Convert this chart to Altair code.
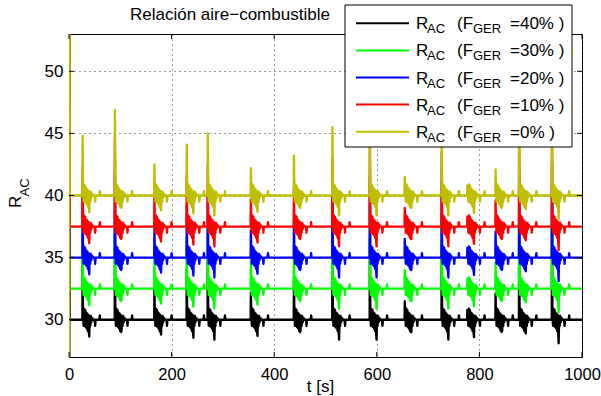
import altair as alt
import pandas as pd

# ---------------- data ----------------
series_names = ["F40", "F30", "F20", "F10", "F0"]
series_pct = ["=40% )", "=30% )", "=20% )", "=10% )", "=0% )"]
series_colors = ["#000000", "#00ff00", "#0000ff", "#ff0000", "#bfbf00"]
baselines = [30.0, 32.5, 35.0, 37.5, 40.0]

# start-up transient at t = 0 (deviation from each baseline)
init_t = [0.0, 0.5, 1.5]
init_dev = [-20.0, 30.0, 0.0]

# disturbance events: time [s], spike height and deepest dip (relative to baseline)
event_t = [26, 89, 166, 229, 270, 354, 438, 513, 586, 654, 726, 776, 831, 877, 941]
event_peak = [4.8, 6.9, 2.5, 4.1, 5.0, 2.2, 3.2, 5.5, 6.5, 1.5, 6.0, 0.8, 2.1, 7.0, 7.5]
event_trough = [-1.35, -0.9, -1.2, -1.45, -1.6, -1.3, -0.8, -1.6, -1.6, -1.0, -1.6, -1.4, -0.9, -1.1, -1.9]

# response seen after each event (seconds after the event, deviation; P = spike, T = dip)
shape_dt = [0, 0.5, 1.5, 2.5, 3.5, 4.5, 5.5, 6.5, 7.5, 8.5, 9.5, 10.5, 11.5, 12.5,
            13.5, 14.5, 15.5, 16.5, 17.5, 19, 21, 24, 25, 26, 33, 34, 35]
shape_off = [0, "P", 0.3, -0.5, 0.9, -0.4, 0.8, -0.6, 0.6, -0.7, 0.5, -0.9, 0.4, -1.0,
             "T", 0.3, -0.5, 0.3, -0.2, 0.15, 0, 0, -0.5, 0, 0, 0.35, 0]

t_end = 1000.0

x_ticks = [0, 200, 400, 600, 800, 1000]
y_ticks = [30, 35, 40, 45, 50]

# ---------------- build table ----------------
rows = []
for s, name in enumerate(series_names):
    pts = list(zip(init_t, init_dev))
    for t0, pk, tr in zip(event_t, event_peak, event_trough):
        for dt, off in zip(shape_dt, shape_off):
            v = pk if off == "P" else (tr if off == "T" else off)
            pts.append((t0 + dt, v))
    pts.append((t_end, 0.0))
    for i, (t, d) in enumerate(pts):
        rows.append({"series": name, "t": t, "r": baselines[s] + d, "i": i})
df = pd.DataFrame(rows)

FONT = "Liberation Sans"
W, H = 513, 323

x_axis = alt.Axis(values=x_ticks, title=None, grid=True, gridDash=[1, 4], gridColor="#333",
                  gridWidth=1, ticks=False, tickSize=0, domain=False, labelFont=FONT,
                  labelFontSize=16.5, labelColor="black", labelPadding=9, labelFlush=False,
                  format="d")
y_axis = alt.Axis(values=y_ticks, title=None, grid=True, gridDash=[1, 4], gridColor="#333",
                  gridWidth=1, ticks=False, tickSize=0, domain=False, labelFont=FONT,
                  labelFontSize=17, labelColor="black", labelPadding=6, format="d")
x_scale = alt.Scale(domain=[0, 1000], nice=False, zero=False)
y_scale = alt.Scale(domain=[27, 53], nice=False, zero=False)


def X(f):
    return alt.X(f"{f}:Q", scale=x_scale, axis=x_axis)


def Y(f):
    return alt.Y(f"{f}:Q", scale=y_scale, axis=y_axis)


layers = []
for name, col in zip(series_names, series_colors):
    layers.append(
        alt.Chart(df).transform_filter(alt.datum.series == name)
        .mark_line(color=col, strokeWidth=2.3, clip=True, strokeJoin="round")
        .encode(x=X("t"), y=Y("r"), order="i:Q")
    )

ytk = pd.DataFrame({"v": y_ticks})
xtk = pd.DataFrame({"v": x_ticks})
layers.append(alt.Chart(ytk).mark_rule(color="black", strokeWidth=1)
              .encode(y=Y("v"), x=alt.value(0), x2=alt.value(5)))
layers.append(alt.Chart(ytk).mark_rule(color="black", strokeWidth=1)
              .encode(y=Y("v"), x=alt.value(W - 5), x2=alt.value(W)))
layers.append(alt.Chart(xtk).mark_rule(color="black", strokeWidth=1)
              .encode(x=X("v"), y=alt.value(H - 5), y2=alt.value(H)))
layers.append(alt.Chart(xtk).mark_rule(color="black", strokeWidth=1)
              .encode(x=X("v"), y=alt.value(0), y2=alt.value(5)))

one = pd.DataFrame({"k": [0]})


def txt(s, x, y, size=17, angle=0, align="left"):
    kw = dict(text=s, font=FONT, fontSize=size, align=align, baseline="alphabetic", color="black")
    if angle:
        kw["angle"] = angle
    return alt.Chart(one).mark_text(**kw).encode(x=alt.value(x), y=alt.value(y))


# title (partly hidden by legend box)
layers.append(txt("Relación aire−combustible", 61, -14, size=17))

# legend box
layers.append(alt.Chart(one).mark_rect(fill="white", stroke="black", strokeWidth=1)
              .encode(x=alt.value(276), x2=alt.value(503), y=alt.value(-29), y2=alt.value(113)))
row0, gap = -10.7, 27.1
for k, (col, pct) in enumerate(zip(series_colors, series_pct)):
    ly = row0 + k * gap
    layers.append(alt.Chart(one).mark_rule(color=col, strokeWidth=2)
                  .encode(x=alt.value(287), x2=alt.value(340), y=alt.value(ly)))
    layers.append(txt("R", 347, ly + 6))
    layers.append(txt("AC", 358, ly + 10, size=13))
    layers.append(txt("(F", 388, ly + 6))
    layers.append(txt("GER", 404, ly + 10, size=13))
    layers.append(txt(pct, 441, ly + 6))

# axis titles
layers.append(txt("R", -48, 174, size=17, angle=270))
layers.append(txt("AC", -40.5, 162.5, size=13, angle=270))
layers.append(txt("t [s]", 251.5, 358, size=17, align="center"))

chart = (
    alt.layer(*layers)
    .properties(width=W, height=H,
                padding={"left": 69, "top": 34, "right": 19, "bottom": 39},
                autosize=alt.AutoSizeParams(type="none"))
    .configure_view(stroke="black", strokeWidth=1)
)

chart.save("out.html", embed_options={"renderer": "svg", "actions": False})
